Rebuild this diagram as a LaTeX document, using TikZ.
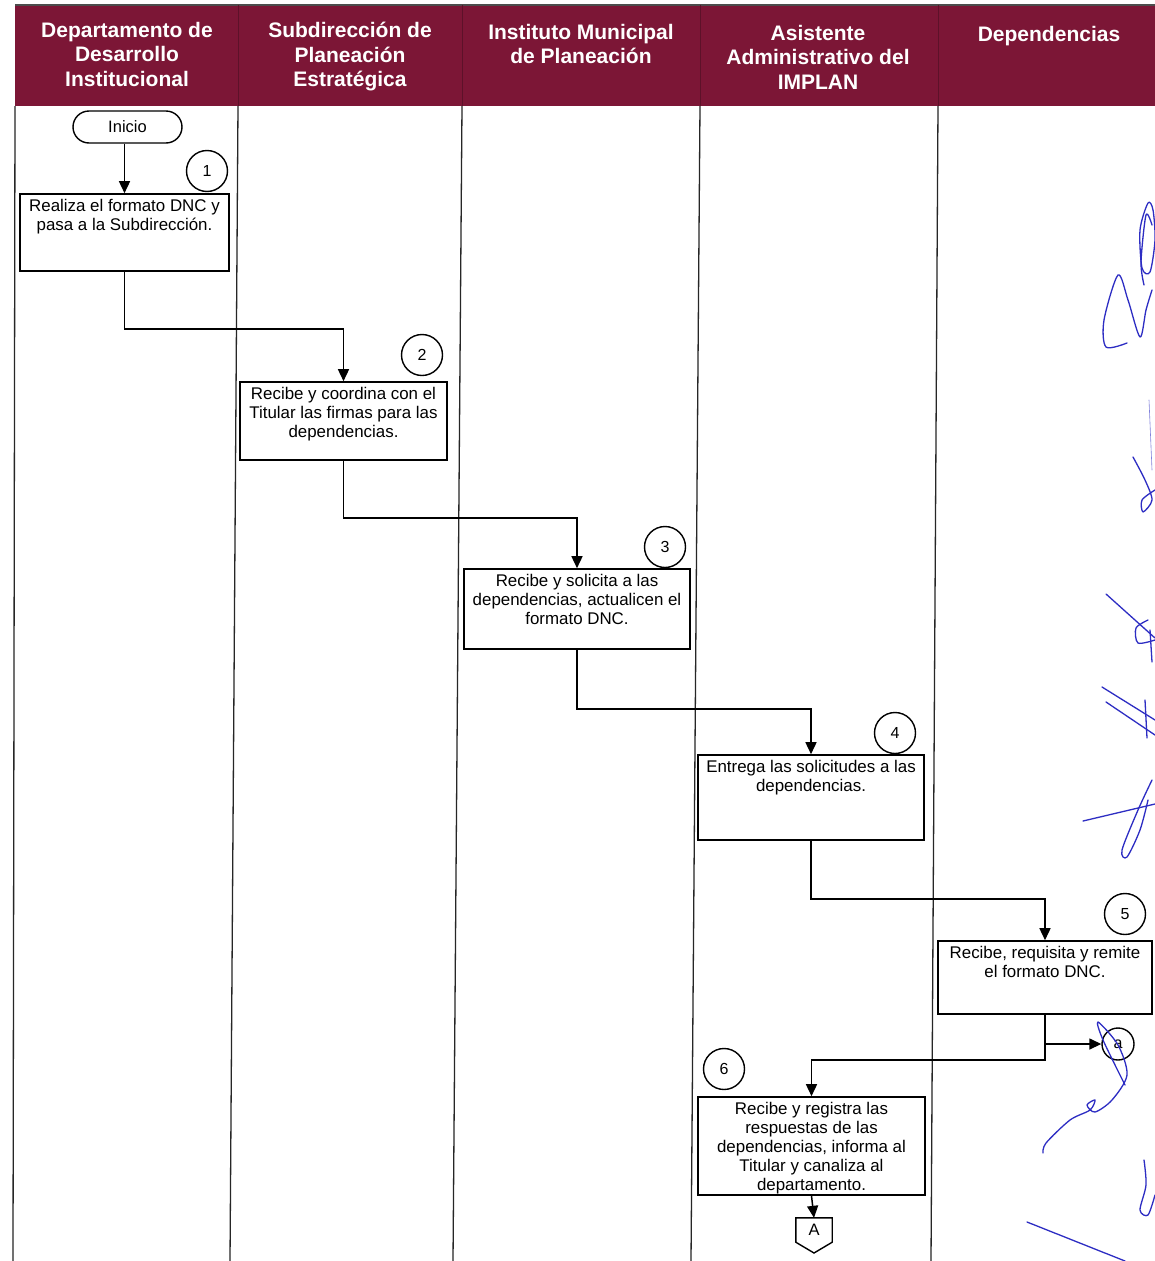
\documentclass[tikz,border=0pt]{standalone}
\usepackage{fontspec}
\setmainfont{Liberation Sans}
\usetikzlibrary{arrows.meta}
\definecolor{guinda}{RGB}{124,22,54}
\definecolor{firma}{RGB}{45,45,195}
\begin{document}
\begin{tikzpicture}[x=1pt,y=-1pt,
  lane/.style={line width=1.3pt, black!85},
  hdr/.style={text=white, font=\bfseries\fontsize{21}{24.5}\selectfont,
    align=center, anchor=north, inner sep=0pt},
  stepbox/.style={draw, line width=1.6pt, inner sep=0pt},
  boxtext/.style={anchor=north, align=center, inner sep=5.5pt,
    font=\fontsize{16.9}{19.2}\selectfont},
  num/.style={draw, circle, line width=1.4pt, inner sep=0pt,
    minimum size=41pt, font=\fontsize{16}{18}\selectfont},
  flow/.style={line width=1.5pt, -{Triangle[length=12pt,width=11pt]}},
  sig/.style={firma, line width=1.3pt, line cap=round, line join=round}]
\useasboundingbox (0,0) rectangle (1155,1261);
\fill[white] (0,0) rectangle (1155,1261);

% header band
\fill[guinda] (15,5) rectangle (1155,106);
\draw[black!70, line width=1.2pt] (15,5) -- (1155,5);
\foreach \x in {238,462,700,938}
  \draw[guinda!75!black, line width=0.9pt] (\x,5) -- (\x,106);
\node[hdr] (h1) at (127,22) {Departamento de\\Desarrollo\\Institucional};
\node[hdr] (h2) at (350,22) {Subdirección de\\Planeación\\Estratégica};
\node[hdr] (h3) at (581,24) {Instituto Municipal\\de Planeación};
\node[hdr] (h4) at (818,25) {Asistente\\Administrativo del\\IMPLAN};
\node[hdr] (h5) at (1049,26) {Dependencias};

% lane borders
\draw[lane] (15,106) -- (13,1261);
\draw[lane] (238,106) -- (230,1261);
\draw[lane] (462,106) -- (453,1261);
\draw[lane] (700,106) -- (691,1261);
\draw[lane] (938,106) -- (931,1261);

% start
\node[draw, line width=1.4pt, rounded corners=16pt, minimum width=109pt,
  minimum height=32pt, inner sep=0pt, font=\fontsize{16.5}{19}\selectfont]
  (ini) at (127.5,127) {Inicio};

% activity boxes
\node[stepbox, minimum width=209pt, minimum height=77pt] (b1) at (124.5,232.5) {};
\node[boxtext] (t1) at (b1.north) {Realiza el formato DNC y\\pasa a la Subdirección.};
\node[num] (n1) at (207,171) {1};

\node[stepbox, minimum width=207pt, minimum height=78pt] (b2) at (343.5,421) {};
\node[boxtext] (t2) at (b2.north) {Recibe y coordina con el\\Titular las firmas para las\\dependencias.};
\node[num] (n2) at (422,355) {2};

\node[stepbox, minimum width=226pt, minimum height=80pt] (b3) at (577,609) {};
\node[boxtext] (t3) at (b3.north) {Recibe y solicita a las\\dependencias, actualicen el\\formato DNC.};
\node[num] (n3) at (665,547) {3};

\node[stepbox, minimum width=226pt, minimum height=85pt] (b4) at (811,797.5) {};
\node[boxtext] (t4) at (b4.north) {Entrega las solicitudes a las\\dependencias.};
\node[num] (n4) at (895,733) {4};

\node[stepbox, minimum width=214pt, minimum height=73pt] (b5) at (1045,977.5) {};
\node[boxtext] (t5) at (b5.north) {Recibe, requisita y remite\\el formato DNC.};
\node[num] (n5) at (1125,914) {5};

\node[stepbox, minimum width=227pt, minimum height=98pt] (b6) at (811.5,1146) {};
\node[boxtext] (t6) at (b6.north) {Recibe y registra las\\respuestas de las\\dependencias, informa al\\Titular y canaliza al\\departamento.};
\node[num] (n6) at (724,1069) {6};

% connectors
\node[num, minimum size=32pt] (ca) at (1118,1044) {a};
\node[inner sep=0pt, minimum width=36pt, minimum height=24pt,
  font=\fontsize{16.5}{19}\selectfont] (A) at (814,1230) {A};
\draw[line width=1.4pt] (A.north west) -- (A.north east) -- (A.south east)
  -- (814,1253) -- (A.south west) -- cycle;

% flow
\draw[flow] (b1.north |- ini.south) -- (b1.north);
\draw[flow] (b1.south) -- ++(0,57) -| (b2.north);
\draw[flow] (b2.south) -- ++(0,57) -| (b3.north);
\draw[flow] (b3.south) -- ++(0,59) -| (b4.north);
\draw[flow] (b4.south) -- ++(0,58) -| (b5.north);
\draw[flow] (b5.south) -- ++(0,45) -| (b6.north);
\draw[flow] (b5.south |- ca.west) -- (ca.west);
\draw[flow] (b6.south) -- (A.north);

% signatures
\draw[sig] plot[smooth] coordinates {(1127,343) (1106,347) (1104,320) (1118,275) (1128,300) (1140,337) (1146,310) (1152,290)};
\draw[sig] plot[smooth cycle] coordinates {(1148,203) (1140,230) (1142,268) (1150,272) (1155,240) (1153,210)};
\draw[sig] plot[smooth] coordinates {(1144,285) (1141,262) (1146,215) (1152,225)};
\draw[sig, line width=0.6pt, firma!60] (1149,400) -- (1152,470);
\draw[sig] plot[smooth] coordinates {(1133,457) (1145,480) (1152,500) (1143,512) (1142,500) (1155,490)};
\draw[sig] (1106,594) -- (1155,638);
\draw[sig] plot[smooth] coordinates {(1148,620) (1136,628) (1138,643) (1155,640)};
\draw[sig] (1150,630) -- (1152,662);
\draw[sig] (1102,687) -- (1155,720);
\draw[sig] (1106,702) -- (1155,735);
\draw[sig] (1145,700) -- (1147,738);
\draw[sig] (1083,821) -- (1155,804);
\draw[sig] plot[smooth] coordinates {(1152,780) (1138,810) (1122,850) (1127,857) (1140,830) (1148,800)};
\draw[sig] plot[smooth] coordinates {(1043,1153) (1046,1143) (1070,1120) (1090,1110) (1095,1100) (1087,1105) (1095,1112) (1112,1100) (1127,1075) (1118,1045) (1098,1022) (1103,1040) (1125,1085)};
\draw[sig] plot[smooth] coordinates {(1144,1160) (1146,1185) (1140,1210) (1148,1215) (1155,1195)};
\draw[sig] (1027,1222) -- (1125,1261);
\end{tikzpicture}
\end{document}
